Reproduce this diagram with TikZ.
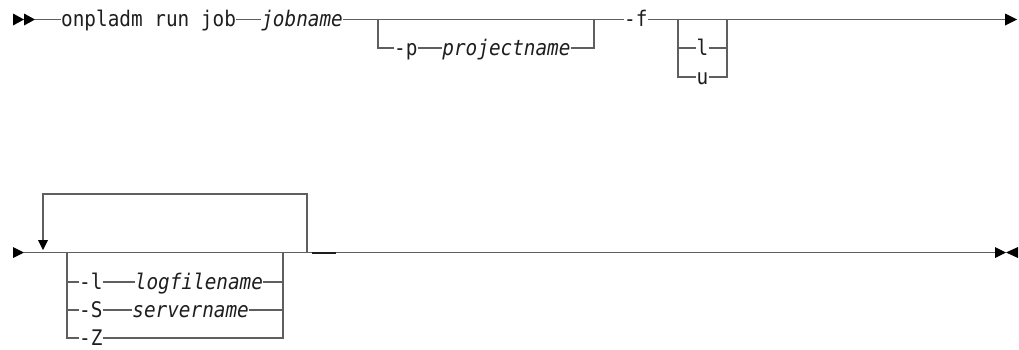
\documentclass[tikz,border=0pt]{standalone}
\usepackage{fontspec}
\setmonofont[FakeStretch=0.9]{DejaVu Sans Mono}
\usetikzlibrary{positioning}
\definecolor{railgray}{RGB}{95,95,95}
\definecolor{inkdark}{RGB}{30,30,30}
\tikzset{
  kw/.style={inner sep=0pt, text height=16pt, text depth=2pt, text=inkdark, font=\fontsize{21.5}{22}\selectfont\ttfamily},
  var/.style={kw, font=\fontsize{21.5}{22}\selectfont\ttfamily\itshape},
  rail/.style={draw=railgray, line width=1.5pt},
  tip/.style={fill=black}
}
\begin{document}
\begin{tikzpicture}[x=1pt, y=-1pt]
\useasboundingbox (0,0) rectangle (1019,349);
% first line
\coordinate (start1) at (35,19.5);
\node[kw, anchor=west] (cmd) at (61,19.5) {onpladm run job};
\node[var, right=25pt of cmd] (job) {jobname};
\coordinate (pin) at (378,19.5);
\coordinate (pout) at (594,19.5);
\node[kw, anchor=west] (pflag) at (394,48) {-p};
\node[var, right=24.5pt of pflag] (proj) {projectname};
\node[kw, anchor=west] (fflag) at (624,19.5) {-f};
\coordinate (fin) at (678,19.5);
\coordinate (fout) at (727,19.5);
\node[kw] (optl) at (702.5,48) {l};
\node[kw] (optu) at (702.5,77) {u};
\coordinate (end1) at (1005,19.5);
\fill[tip] (13,13.5) -- (24,19.5) -- (13,25.5) -- cycle;
\fill[tip] (24,13.5) -- (35,19.5) -- (24,25.5) -- cycle;
\draw[rail] (start1) -- (cmd.west);
\draw[rail] (cmd.east) -- (job.west);
\draw[rail] (job.east) -- (fflag.west);
\draw[rail] (pin) |- (pflag.west);
\draw[rail] (pflag.east) -- (proj.west);
\draw[rail] (proj.east) -| (pout);
\draw[rail] (fflag.east) -- (end1);
\draw[rail] (fin) |- (optu.west);
\draw[rail] (fin |- optl) -- (optl.west);
\draw[rail] (optu.east) -| (fout);
\draw[rail] (optl.east) -- (fout |- optl);
\fill[tip] (1005,13.5) -- (1017,19.5) -- (1005,25.5) -- cycle;
% second line
\coordinate (start2) at (24,252.5);
\coordinate (rep) at (43,240);
\coordinate (altin) at (67,252.5);
\coordinate (altout) at (283,252.5);
\coordinate (loopout) at (307,252.5);
\coordinate (looptop) at (307,194);
\coordinate (marka) at (312,252.5);
\coordinate (markb) at (336,252.5);
\coordinate (end2) at (995,252.5);
\node[kw, anchor=west] (lflag) at (79,282) {-l};
\node[var, right=32pt of lflag] (logf) {logfilename};
\node[kw, anchor=west] (sflag) at (79,310) {-S};
\node[var, right=29.5pt of sflag] (serv) {servername};
\node[kw, anchor=west] (zflag) at (79,338) {-Z};
\fill[tip] (13,247) -- (24,252.5) -- (13,258) -- cycle;
\draw[rail] (start2) -- (end2);
\draw[rail] (loopout) -- (looptop) -| (rep);
\fill[tip] (38,240) -- (48,240) -- (43,250) -- cycle;
\draw[rail] (altin) |- (zflag.west);
\draw[rail] (altin |- lflag) -- (lflag.west);
\draw[rail] (altin |- sflag) -- (sflag.west);
\draw[rail] (lflag.east) -- (logf.west);
\draw[rail] (sflag.east) -- (serv.west);
\draw[rail] (logf.east) -- (altout |- logf);
\draw[rail] (serv.east) -- (altout |- serv);
\draw[rail] (zflag.east) -| (altout);
\draw[draw=inkdark, line width=2pt] (marka) -- (markb);
\fill[tip] (995,247) -- (1006,252.5) -- (995,258) -- cycle;
\fill[tip] (1018,247) -- (1006,252.5) -- (1018,258) -- cycle;
\end{tikzpicture}
\end{document}
